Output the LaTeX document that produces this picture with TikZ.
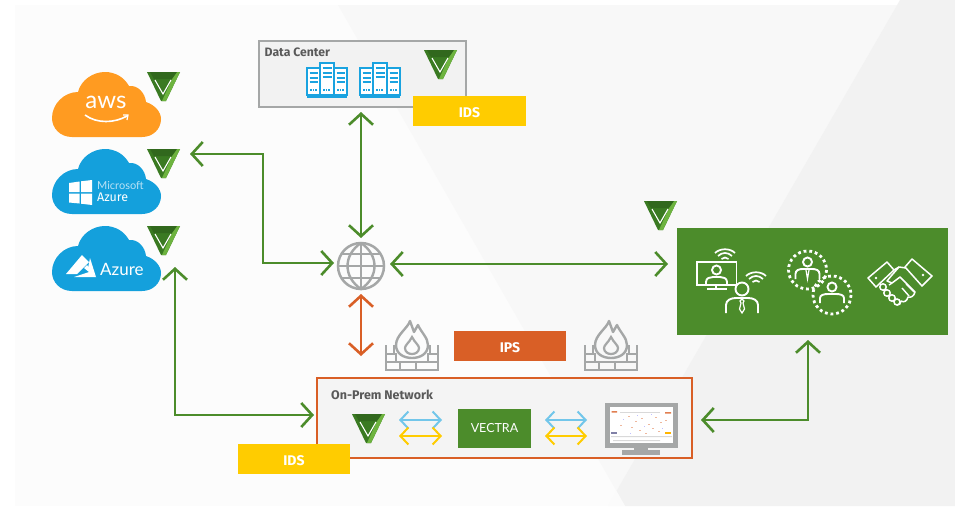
\documentclass[tikz,border=0pt]{standalone}
\usepackage{fontspec}
\setmainfont{Fira Sans}
\newfontfamily\lightf{Lato}
\usetikzlibrary{arrows.meta}
\definecolor{vgreen}{HTML}{4C8C2B}
\definecolor{vdark}{HTML}{3A7A22}
\definecolor{vlight}{HTML}{6DB33F}
\definecolor{orangeR}{HTML}{D95F26}
\definecolor{idsY}{HTML}{FFCC00}
\definecolor{awsO}{HTML}{FF9B21}
\definecolor{azB}{HTML}{14A0DC}
\definecolor{srvB}{HTML}{1AA3E0}
\definecolor{grayI}{HTML}{A5A7A7}
\definecolor{bgA}{HTML}{FCFCFC}
\definecolor{bgB}{HTML}{F8F8F8}
\definecolor{bgC}{HTML}{F2F2F2}
\newcommand{\tagtext}[1]{\raisebox{-6pt}[0pt][0pt]{#1}}
\tikzset{
  x=1pt,y=-1pt,
  conn/.style={draw=vgreen,line width=2.6pt,{Straight Barb[length=11pt,width=24pt,line width=2.6pt]}-{Straight Barb[length=11pt,width=24pt,line width=2.6pt]}},
  connO/.style={conn,draw=orangeR,{Straight Barb[length=11pt,width=24pt,line width=2.6pt,color=orangeR]}-{Straight Barb[length=11pt,width=24pt,line width=2.6pt,color=orangeR]}},
  thinB/.style={draw=#1,line width=2pt,{Straight Barb[length=8pt,width=17pt,line width=2pt,color=#1]}-{Straight Barb[length=8pt,width=17pt,line width=2pt,color=#1]}},
  tag/.style={inner sep=0pt,fill=#1,text=white,minimum width=112.5pt,minimum height=30pt,font=\bfseries\fontsize{14}{14}\selectfont,anchor=center},
  anchorpt/.style={inner sep=0pt,outer sep=0pt},
  wl/.style={draw=white,line width=1.9pt,fill=none},
  gl/.style={draw=grayI,line width=2.4pt,fill=none},
  vmark/.pic={
    \fill[vdark] (0,0)--(33,0)--(19,29)--(14,29)--cycle;
    \fill[vlight] (33,0)--(19,29)--(15,29)--(25,7)--(26,0)--cycle;
    \fill[vdark!85!black] (3,0)--(30,0)--(25,7)--(7,7)--cycle;
    \draw[white,line width=1.1pt] (8,8)--(16,22)--(24,8);
  },
  cloudshape/.pic={
    \fill[pic actions] (20,65) .. controls (8,65) and (0,56) .. (0,46)
      .. controls (0,32) and (12,20) .. (26,20)
      .. controls (29,8) and (41,0) .. (53,0)
      .. controls (63,0) and (72,5) .. (77,14)
      .. controls (86,13) and (93,21) .. (94,30)
      .. controls (103,33) and (109,40) .. (109,47)
      .. controls (109,57) and (101,65) .. (90,65) -- cycle;
  },
  servergrp/.pic={
    \foreach \xx/\yy/\ww/\hh in {0/5/13/27,13/0/14/32,27/5/13/27}{
      \draw[srvB,line width=1.4pt,fill=white] (\xx,\yy) rectangle ++(\ww,\hh);
      \foreach \k in {5,9.5,14}{\draw[srvB,line width=2pt] (\xx+2.5,\yy+\k) -- ++(\ww-5,0);}
      \draw[srvB,line width=1.6pt,dash pattern=on 1.5pt off 1.2pt] (\xx+3,\yy+\hh-5) -- ++(\ww-6,0);
    }
    \draw[srvB,line width=1.6pt] (0,34) -- (40,34);
  },
  firewall/.pic={
    \draw[gl,line join=round] (25,1) .. controls (23,8) and (11,15) .. (11,25) .. controls (11,34) and (19,38) .. (27,38) .. controls (35,38) and (43,34) .. (43,25) .. controls (43,18) and (36,12) .. (33,5) -- (29,12) -- cycle;
    \draw[gl,line width=2.2pt] (27,17) .. controls (24,23) and (20,25) .. (20,28) .. controls (20,36) and (34,36) .. (34,28) .. controls (34,25) and (30,23) .. (27,17) -- cycle;
    \draw[gl] (1,25) -- (1,50) -- (53,50) -- (53,25);
    \draw[gl] (1,34) -- (9,34) -- (9,25) (1,42) -- (53,42) (53,34) -- (45,34) -- (45,25);
    \draw[gl] (11,42)--(11,34) -- (1,34) (43,42)--(43,34) -- (53,34) (15,42)--(15,50) (31,42)--(31,50);
  },
  person/.pic={
    \draw[wl] (0,0) circle (6.5);
    \draw[wl] (-16,24) -- (-16,16) .. controls (-16,11) and (-11,9) .. (-6,9) -- (6,9) .. controls (11,9) and (16,11) .. (16,16) -- (16,24);
    \draw[white,line width=1.2pt] (0,10) -- (-2,12) -- (-1,14) -- (-2.5,20) -- (0,24) -- (2.5,20) -- (1,14) -- (2,12) -- cycle;
  },
  wifi/.pic={
    \draw[white,line width=1.7pt] (-10,-2) .. controls (-5,-7) and (5,-7) .. (10,-2);
    \draw[white,line width=1.7pt] (-7,1) .. controls (-3,-3) and (3,-3) .. (7,1);
    \draw[white,line width=1.7pt] (-3.5,4) .. controls (-1,2) and (1,2) .. (3.5,4);
  }
}
\begin{document}
\begin{tikzpicture}
\useasboundingbox (0,0) rectangle (955,506);
\fill[white] (0,0) rectangle (955,506);
\fill[bgA] (15,5) rectangle (955,506);
\fill[bgB] (338,5) -- (897,5) -- (616.5,491) -- cycle;
\fill[bgC] (900,0) -- (955,0) -- (955,506) -- (625,506) -- (616.5,491) -- cycle;
\fill[bgA!70!bgB] (616.5,491) -- (625,506) -- (608,506) -- cycle;
% Data centre
\node[anchorpt,minimum width=207pt,minimum height=66pt,draw=grayI,line width=1.5pt,fill=bgC,anchor=north west] (dc) at (259,41) {};
\node[anchor=west,text=black!65,font=\bfseries\fontsize{12.2}{12}\selectfont,inner sep=0pt] (dclabel) at (264.5,52) {Data Center};
\pic at (307,63) {servergrp};
\pic at (360,63) {servergrp};
\pic at (424,50) {vmark};
\node[tag=idsY] (idsTop) at (469.5,111) {\tagtext{IDS}};
% Clouds
\pic[fill=awsO] at (52,72) {cloudshape};
\pic[fill=azB] at (52,149) {cloudshape};
\pic[fill=azB] at (52,226) {cloudshape};
\node[anchorpt,minimum width=109pt,minimum height=65pt] (aws) at (106.5,104.5) {};
\node[anchorpt,minimum width=109pt,minimum height=65pt] (msaz) at (106.5,181.5) {};
\node[anchorpt,minimum width=109pt,minimum height=65pt] (az) at (106.5,258.5) {};
\node[text=white,font=\lightf\fontsize{24}{24}\selectfont,inner sep=0pt] (awstxt) at (106,102) {aws};
\draw[white,line width=1.6pt] (85,115) .. controls (97,124) and (115,123) .. (127,116);
\draw[white,line width=1.2pt] (123,115) -- (128,115) -- (127,120);
% MS Azure
\fill[white] (69,183) -- (79.5,181.5) -- (79.5,192) -- (69,192) -- cycle;
\fill[white] (81,181.3) -- (92,180) -- (92,192) -- (81,192) -- cycle;
\fill[white] (69,193.5) -- (79.5,193.5) -- (79.5,203.5) -- (69,202.5) -- cycle;
\fill[white] (81,193.5) -- (92,193.5) -- (92,205) -- (81,203.7) -- cycle;
\node[anchor=west,inner sep=0pt,text=white!70!azB,font=\lightf\fontsize{11}{11}\selectfont] (mstxt) at (97,186) {Microsoft};
\node[anchor=west,inner sep=0pt,text=white,font=\fontsize{12.5}{12}\selectfont] (aztxt) at (97,197.5) {Azure};
% Azure logo
\fill[white] (82,255) -- (66,274) -- (77,274) -- (89,262) -- cycle;
\fill[white] (87,265) -- (96,277) -- (74,277) -- (83,274) -- (89,272) -- (84,268) -- cycle;
\fill[white] (90,258) -- (96,277) -- (88,268) -- cycle;
\node[anchor=west,inner sep=0pt,text=white,font=\lightf\fontsize{17}{17}\selectfont] (az2txt) at (100,269) {Azure};
\pic at (147,72) {vmark};
\pic at (147,149) {vmark};
\pic at (147,226) {vmark};
% Globe
\node[circle,anchorpt,minimum size=46pt,draw=grayI,line width=2.5pt] (globe) at (361,266) {};
\draw[grayI,line width=2.4pt] (361,243) -- (361,289) (338,266) -- (384,266) (341,254) -- (381,254) (341,278) -- (381,278);
\draw[grayI,line width=2.4pt] (361,243) .. controls (343,255) and (343,277) .. (361,289) .. controls (379,277) and (379,255) .. (361,243);
% firewalls and IPS
\pic at (385,320) {firewall};
\pic at (584,320) {firewall};
\node[anchorpt,minimum size=2pt] (fw) at (361,357) {};
\node[tag=orangeR] (ips) at (510,346) {\tagtext{IPS}};
% green box
\node[anchorpt,fill=vgreen,minimum width=271pt,minimum height=107pt,anchor=north west] (work) at (677,228) {};
\pic at (644,201) {vmark};
% monitor + presenter
\draw[wl] (697,262) rectangle (736.5,285);
\draw[wl] (707,289) -- (727,289);
\draw[wl] (716,285) -- (716,289);
\draw[wl] (716.5,270) circle (4.5);
\draw[wl] (706,285) -- (706,282) .. controls (706,278) and (710,277) .. (713,277) -- (720,277) .. controls (723,277) and (727,278) .. (727,282) -- (727,285);
\pic at (725,255) {wifi};
\pic at (756,278) {wifi};
\pic at (742,289) {person};
% team
\draw[white,line width=2.8pt,dash pattern=on 2.8pt off 2.9pt] (807.5,270) circle (19);
\draw[white,line width=2.8pt,dash pattern=on 2.8pt off 2.9pt] (832,295) circle (19);
\draw[wl] (807.5,262) circle (4.5);
\draw[wl] (795.5,279) -- (795.5,274) .. controls (795.5,270) and (799,269) .. (803,269) -- (812,269) .. controls (816,269) and (819.5,270) .. (819.5,274) -- (819.5,279);
\draw[white,line width=1.2pt] (806,270) -- (807.5,279) -- (809,270);
\draw[wl] (832,287) circle (4.5);
\draw[wl] (820,303) -- (820,298) .. controls (820,295) and (824,294) .. (828,294) -- (836,294) .. controls (840,294) and (844,295) .. (844,298) -- (844,303);
% handshake
\draw[white,line width=1.5pt,line join=round] (868,278) -- (887,262) -- (894,270) -- (876,287) -- cycle;
\draw[white,line width=1.5pt,line join=round] (912,259) -- (932,276) -- (922,286) -- (905,267) -- cycle;
\fill[white] (876,278) circle (1.4) (923,275) circle (1.4);
\draw[white,line width=1.5pt,line join=round] (906,268) -- (899,267) -- (892,275) -- (887,281) -- (892,283) -- (900,277) -- (915,292) .. controls (914,296) and (911,298) .. (908,297) .. controls (907,301) and (904,303) .. (901,301) .. controls (901,304) and (899,305) .. (897,305);
\draw[white,line width=1.5pt] (894,270) -- (899,267);
\draw[white,line width=1.5pt] (883,287) circle (3.2) (887,293) circle (3.2) (892,298) circle (3.2) (897,302) circle (3);
\draw[white,line width=1.4pt] (902,288) -- (909,296) (906,284) -- (914,292) (889,285) -- (892,283);
% On-prem
\node[anchorpt,minimum width=375pt,minimum height=80pt,draw=orangeR,line width=1.5pt,fill=bgC!60!bgB,anchor=north west] (onprem) at (317,378) {};
\node[anchor=west,text=black!65,font=\bfseries\fontsize{12.5}{12}\selectfont,inner sep=0pt] (oplabel) at (331,395) {On-Prem Network};
\pic at (352,414) {vmark};
\node[anchorpt,fill=vgreen,minimum width=73pt,minimum height=39pt,text=white,font=\lightf\fontsize{12.5}{13}\selectfont] (vectra) at (494.5,428.5) {VECTRA};
% monitor
\node[anchorpt,fill=grayI,minimum width=73pt,minimum height=45pt,anchor=north west] (mon) at (605,403) {};
\fill[white] (610,407) rectangle (673,443);
\fill[orangeR!80] (611.5,411) rectangle (617,412.5) (665,412) rectangle (671,413.5);
\fill[black!15] (620,412) rectangle (660,413);
\foreach \xx/\yy in {628/416,635/421,641/418,648/424,655/417,660/422,631/427,639/430,645/433,652/428,620/425,665/420,658/431}{\fill[orangeR!45!white] (\xx,\yy) rectangle ++(1.6,1.2);}
\foreach \xx/\yy in {623/419,630/433,644/426,651/414,662/428,637/415}{\fill[blue!25!white] (\xx,\yy) rectangle ++(1.4,1);}
\fill[blue!30!black!50] (611,432) rectangle (617,434);
\fill[idsY!70!orange] (665,432) rectangle (671,434);
\fill[black!15] (611,436) rectangle (672,437) (613,440) rectangle (660,441);
\fill[grayI] (634,448) rectangle (648,451);
\fill[grayI] (622,450) rectangle (660,454.5);
\node[tag=idsY] (idsBot) at (294,459) {\tagtext{IDS}};
% connectors
\coordinate (a1) at (190,154);
\coordinate (a2) at (263,263);
\coordinate (g1) at (334,263);
\coordinate (b1) at (175,267);
\coordinate (b2) at (314,415);
\coordinate (c1) at (701,420);
\coordinate (c2) at (808,340);
\coordinate (d1) at (361,112);
\coordinate (d2) at (361,238);
\coordinate (e1) at (390,264);
\coordinate (e2) at (668,264);
\coordinate (o1) at (361,294);
\draw[conn] (a1) -| (a2) -- (g1);
\draw[conn] (b1) |- (b2);
\draw[conn] (c1) -| (c2);
\draw[conn] (d1) -- (d2);
\draw[conn] (e1) -- (e2);
\draw[connO] (o1) -- (fw);
\coordinate (h1) at (399,420); \coordinate (h2) at (442,420);
\coordinate (i1) at (399,436); \coordinate (i2) at (442,436);
\coordinate (j1) at (545,420); \coordinate (j2) at (587,420);
\coordinate (k1) at (545,436); \coordinate (k2) at (587,436);
\draw[thinB=azB!60!white] (h1) -- (h2);
\draw[thinB=idsY] (i1) -- (i2);
\draw[thinB=azB!60!white] (j1) -- (j2);
\draw[thinB=idsY] (k1) -- (k2);
\end{tikzpicture}
\end{document}
